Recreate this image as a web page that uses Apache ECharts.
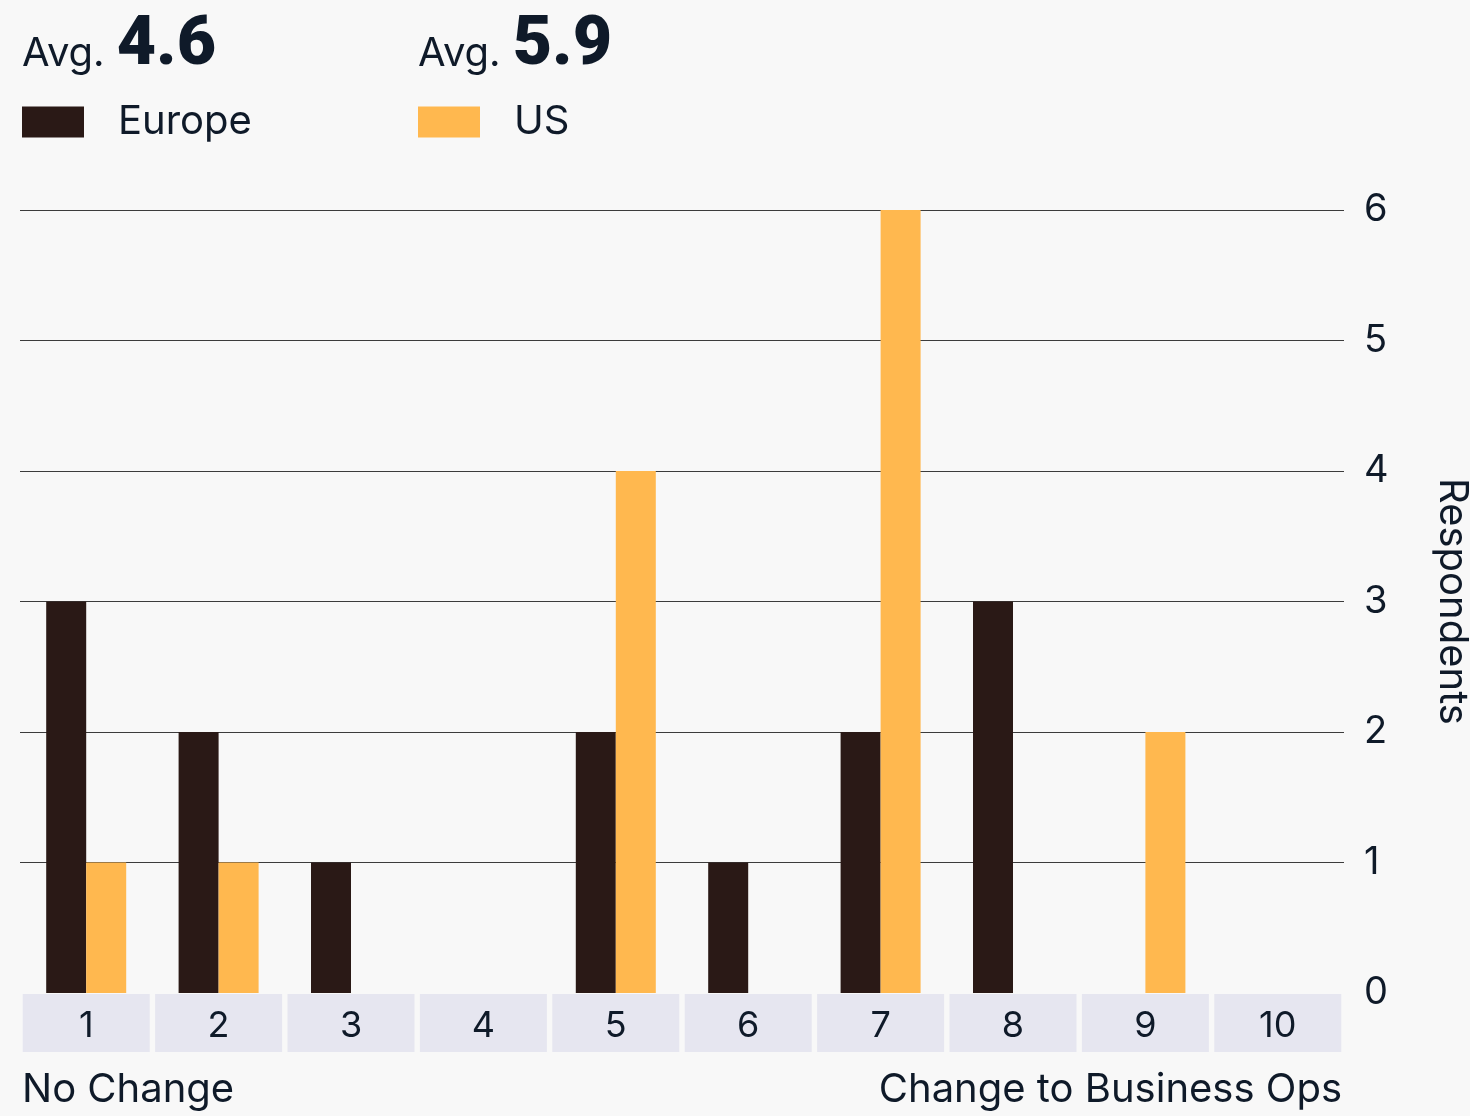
<!DOCTYPE html>
<html>
<head>
<meta charset="utf-8">
<script src="https://cdn.jsdelivr.net/npm/echarts@6/dist/echarts.min.js"></script>
<style>
  html, body { margin: 0; padding: 0; background: #f8f8f8; }
  #chart { width: 1470px; height: 1116px; }
</style>
</head>
<body>
<div id="chart"></div>
<script>
// Scale positions 1..10, from "No Change" to "Change to Business Ops"
const categories = ['1', '2', '3', '4', '5', '6', '7', '8', '9', '10'];
// Respondent counts per scale position
const europe = [3, 2, 1, 0, 2, 1, 2, 3, 0, 0];
const us = [1, 1, 0, 0, 4, 0, 6, 0, 2, 0];
// Average scores shown above the legend
const averages = { Europe: '4.6', US: '5.9' };
const yTicks = { min: 0, max: 6, interval: 1 };

const FONT = 'Inter, Roboto, "Noto Sans", sans-serif';
const NUM_FONT = 'Roboto, Inter, sans-serif';
const INK = '#0f1a29';
const DARK = '#2a1916';
const ORANGE = '#ffb84f';

const chart = echarts.init(document.getElementById('chart'), null, { renderer: 'canvas' });

const avgTitle = (left, value) => ({
  left: left,
  top: 9,
  padding: 0,
  text: '{a|Avg.}{b|' + value + '}',
  textStyle: {
    rich: {
      a: { fontFamily: FONT, fontSize: 40, fontWeight: 'normal', color: INK, verticalAlign: 'bottom', lineHeight: 72, padding: [0, 0, 7, 0] },
      b: { fontFamily: NUM_FONT, fontSize: 68, fontWeight: 900, color: INK, verticalAlign: 'bottom', lineHeight: 72, padding: [0, 0, 0, 12] }
    }
  }
});

const legendBase = (left, name) => ({
  left: left,
  top: 97,
  data: [name],
  itemWidth: 62,
  itemHeight: 31,
  icon: 'rect',
  textStyle: { fontFamily: FONT, fontSize: 40, color: INK, padding: [16, 0, 0, 29] }
});

chart.setOption({
  backgroundColor: '#f8f8f8',
  animation: false,
  title: [avgTitle(22, averages.Europe), avgTitle(418, averages.US)],
  legend: [legendBase(17, 'Europe'), legendBase(413, 'US')],
  grid: { left: 20, right: 126, top: 210, bottom: 123, containLabel: false, outerBoundsMode: 'none' },
  xAxis: {
    type: 'category',
    data: categories,
    axisLine: { show: false },
    axisTick: { show: false },
    axisLabel: {
      margin: 1,
      fontFamily: FONT,
      fontSize: 36,
      color: INK,
      backgroundColor: '#e6e6f0',
      width: 127,
      height: 58,
      lineHeight: 64,
      align: 'center'
    }
  },
  yAxis: {
    type: 'value',
    position: 'right',
    min: yTicks.min,
    max: yTicks.max,
    interval: yTicks.interval,
    name: 'Respondents',
    nameLocation: 'middle',
    nameRotate: -90,
    nameGap: 88,
    nameTextStyle: { fontFamily: FONT, fontSize: 40, color: INK },
    axisLine: { show: false },
    axisTick: { show: false },
    axisLabel: { margin: 20, fontFamily: FONT, fontSize: 38, color: INK },
    splitLine: { show: true, showMinLine: false, lineStyle: { color: '#3c3c3c', width: 1 } }
  },
  series: [
    { name: 'Europe', type: 'bar', data: europe, barWidth: 40, barGap: '0%', itemStyle: { color: DARK } },
    { name: 'US', type: 'bar', data: us, barWidth: 40, barGap: '0%', itemStyle: { color: ORANGE } }
  ],
  graphic: [
    { type: 'text', left: 22, top: 1070, style: { text: 'No Change', font: '40px ' + FONT, fill: INK } },
    { type: 'text', right: 128, top: 1070, style: { text: 'Change to Business Ops', font: '40px ' + FONT, fill: INK } }
  ]
});
</script>
</body>
</html>
